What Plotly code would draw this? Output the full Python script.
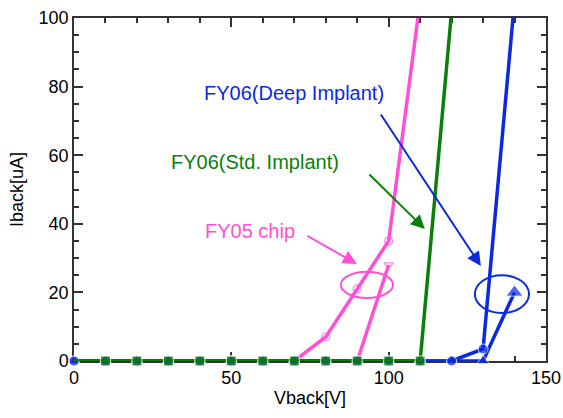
import plotly.graph_objects as go

# ---- data ----
v_fy05_a = [0, 10, 20, 30, 40, 50, 60, 70, 80, 90, 100, 110]
i_fy05_a = [0, 0, 0, 0, 0, 0, 0, 0, 7, 21, 35, 105]

v_fy05_b = [0, 10, 20, 30, 40, 50, 60, 70, 80, 90, 100]
i_fy05_b = [0, 0, 0, 0, 0, 0, 0, 0, 0, 0, 28]

v_std = [0, 10, 20, 30, 40, 50, 60, 70, 80, 90, 100, 110, 120]
i_std = [0, 0, 0, 0, 0, 0, 0, 0, 0, 0, 0, 0, 102]

v_deep_a = [0, 10, 20, 30, 40, 50, 60, 70, 80, 90, 100, 110, 120, 130, 140]
i_deep_a = [0, 0, 0, 0, 0, 0, 0, 0, 0, 0, 0, 0, 0, 3.5, 105]

v_deep_b = [0, 10, 20, 30, 40, 50, 60, 70, 80, 90, 100, 110, 120, 130, 140]
i_deep_b = [0, 0, 0, 0, 0, 0, 0, 0, 0, 0, 0, 0, 0, 0, 20]

PINK = "#ff4fd6"
GREEN = "#0a7f0a"
BLUE = "#0b2ae0"
FONT = "Liberation Sans, Arial, sans-serif"
YMAX = 100


def sizes(vals, s, first=True, last=None):
    # hide markers that fall outside the visible range
    out = [s if v <= YMAX else 0 for v in vals]
    if not first:
        out[0] = 0
    if last is not None and out[-1]:
        out[-1] = last
    return out


fig = go.Figure()

fig.add_trace(go.Scatter(x=v_fy05_b, y=i_fy05_b, mode="lines+markers", cliponaxis=False,
                         line=dict(color=PINK, width=3.5),
                         marker=dict(symbol="triangle-down-open", size=sizes(i_fy05_b, 8),
                                     color=PINK, line=dict(width=1.2))))
fig.add_trace(go.Scatter(x=v_fy05_a, y=i_fy05_a, mode="lines+markers", cliponaxis=False,
                         line=dict(color=PINK, width=3.5),
                         marker=dict(symbol="circle-open", size=sizes(i_fy05_a, 8),
                                     color=PINK, line=dict(width=1.2))))
fig.add_trace(go.Scatter(x=v_deep_b, y=i_deep_b, mode="lines+markers", cliponaxis=False,
                         line=dict(color=BLUE, width=3.5),
                         marker=dict(symbol="triangle-up", size=sizes(i_deep_b, 11, last=15),
                                     color=BLUE)))
fig.add_trace(go.Scatter(x=v_deep_a, y=i_deep_a, mode="lines+markers", cliponaxis=False,
                         line=dict(color=BLUE, width=3.5),
                         marker=dict(symbol="circle", size=sizes(i_deep_a, 10), color=BLUE)))
fig.add_trace(go.Scatter(x=v_std, y=i_std, mode="lines+markers", cliponaxis=False,
                         line=dict(color=GREEN, width=3.5),
                         marker=dict(symbol="square", size=sizes(i_std, 10, first=False), color=GREEN)))

# annotations (text + arrows)
fig.add_annotation(x=69.8, y=78.1, text="FY06(Deep Implant)", showarrow=False,
                   font=dict(family=FONT, size=20, color=BLUE))
fig.add_annotation(x=57.5, y=58.0, text="FY06(Std. Implant)", showarrow=False,
                   font=dict(family=FONT, size=20, color=GREEN))
fig.add_annotation(x=55.8, y=37.9, text="FY05 chip", showarrow=False,
                   font=dict(family=FONT, size=20, color=PINK))

arrows = [
    (129.3, 27.7, 97.2, 72.3, BLUE),
    (111.5, 38.5, 93.4, 54.8, GREEN),
    (89.9, 28.3, 73.7, 36.7, PINK),
]
for hx, hy, tx, ty, c in arrows:
    fig.add_annotation(x=hx, y=hy, ax=tx, ay=ty, xref="x", yref="y", axref="x", ayref="y",
                       text="", showarrow=True, arrowhead=2, arrowsize=1.4, arrowwidth=2,
                       arrowcolor=c)

fig.add_shape(type="circle", xref="x", yref="y", x0=84.8, x1=101.4, y0=18.4, y1=26.0,
              line=dict(color=PINK, width=2))
fig.add_shape(type="circle", xref="x", yref="y", x0=127.4, x1=144.6, y0=14.0, y1=25.0,
              line=dict(color=BLUE, width=2))

fig.update_layout(
    width=563, height=418,
    margin=dict(l=74, r=17, t=18, b=57),
    plot_bgcolor="white", paper_bgcolor="white",
    showlegend=False,
    font=dict(family=FONT, size=18, color="black"),
)
fig.update_xaxes(range=[0, 150], tick0=0, dtick=50, ticks="inside", ticklen=9, tickwidth=1.5,
                 tickcolor="#333", showgrid=False, zeroline=False, automargin=False,
                 showline=True, linecolor="#333", linewidth=1.5, mirror="allticks",
                 layer="below traces", ticklabeloverflow="allow",
                 minor=dict(ticks="inside", dtick=10, ticklen=5, tickwidth=1.5, tickcolor="#333"),
                 title=dict(text="Vback[V]", font=dict(size=18), standoff=4),
                 tickfont=dict(size=18))
fig.update_yaxes(range=[0, YMAX], tick0=0, dtick=20, ticks="inside", ticklen=9, tickwidth=1.5,
                 tickcolor="#333", showgrid=False, zeroline=False, automargin=False,
                 showline=True, linecolor="#333", linewidth=1.5, mirror="allticks",
                 layer="below traces", ticklabeloverflow="allow",
                 minor=dict(ticks="inside", dtick=5, ticklen=5, tickwidth=1.5, tickcolor="#333"),
                 title=dict(text="Iback[uA]", font=dict(size=18), standoff=10),
                 tickfont=dict(size=18))

fig.write_html("out.html", config={"displayModeBar": False},
               post_script="document.body.style.margin='0px';")
